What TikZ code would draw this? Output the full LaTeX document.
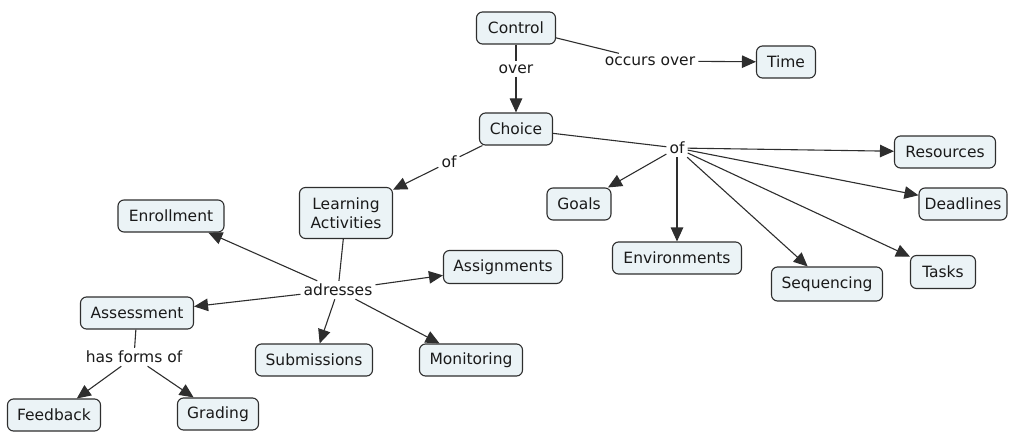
\documentclass[tikz,border=0pt]{standalone}
\usepackage{fontspec}
\setmainfont{DejaVu Sans}
\usetikzlibrary{arrows.meta}
\definecolor{boxfill}{HTML}{EBF3F6}
\definecolor{boxline}{HTML}{2E2E2E}
\definecolor{txt}{HTML}{1A1A1A}
\tikzset{
  concept/.style={draw=boxline, fill=boxfill, rounded corners=6pt, line width=1.1pt,
    minimum height=32pt, inner sep=2pt, text=txt, font=\fontsize{15.5}{19.5}\selectfont, align=center},
  linklabel/.style={inner sep=3pt, text=txt, font=\fontsize{15.5}{19.5}\selectfont},
  plain/.style={draw=boxline, line width=1.1pt},
  arr/.style={draw=boxline, line width=1.1pt, -{Triangle[length=14pt,width=12.5pt]}},
}
\begin{document}
\begin{tikzpicture}[x=1pt,y=-1pt]
\useasboundingbox (0,0) rectangle (1011,433);
\node[concept, minimum width=79pt] (ctrl) at (516,28) {Control};
\node[concept, minimum width=59pt] (time) at (786,62) {Time};
\node[linklabel] (over) at (516,69) {over};
\node[linklabel] (occ) at (650,61) {occurs over};
\node[concept, minimum width=73pt] (choice) at (516,129) {Choice};
\node[linklabel] (ofA) at (449,162) {of};
\node[concept, minimum width=93pt, minimum height=51pt] (la) at (346,213) {Learning\\Activities};
\node[linklabel] (ofB) at (677,148) {of};
\node[concept, minimum width=101pt] (res) at (945,152) {Resources};
\node[concept, minimum width=88pt] (dead) at (963,204) {Deadlines};
\node[concept, minimum width=64pt] (goals) at (579,204) {Goals};
\node[concept, minimum width=129pt] (env) at (677,258) {Environments};
\node[concept, minimum width=111pt, minimum height=34pt] (seq) at (827,284) {Sequencing};
\node[concept, minimum width=65pt, minimum height=33pt] (tasks) at (943,272) {Tasks};
\node[concept, minimum width=119pt, minimum height=33pt] (assign) at (503,267) {Assignments};
\node[concept, minimum width=106pt] (enr) at (171,216) {Enrollment};
\node[linklabel] (adr) at (338,290) {adresses};
\node[concept, minimum width=113pt] (assess) at (137,313) {Assessment};
\node[linklabel] (hfo) at (134,357) {has forms of};
\node[concept, minimum width=117pt] (subm) at (314,360) {Submissions};
\node[concept, minimum width=103pt] (mon) at (471,360) {Monitoring};
\node[concept, minimum width=93pt] (fb) at (54,415) {Feedback};
\node[concept, minimum width=81pt] (grad) at (218,414) {Grading};

\draw[plain] (ctrl) -- (over);
\draw[arr] (over) -- (choice);
\draw[plain] (ctrl) -- (occ);
\draw[arr] (occ) -- (time);
\draw[plain] (choice) -- (ofA);
\draw[arr] (ofA) -- (la);
\draw[plain] (choice) -- (ofB);
\draw[arr] (ofB) -- (res);
\draw[arr] (ofB) -- (dead);
\draw[arr] (ofB) -- (goals);
\draw[arr] (ofB) -- (env);
\draw[arr] (ofB) -- (seq);
\draw[arr] (ofB) -- (tasks);
\draw[plain] (la) -- (adr);
\draw[arr] (adr) -- (enr);
\draw[arr] (adr) -- (assess);
\draw[arr] (adr) -- (subm);
\draw[arr] (adr) -- (mon);
\draw[arr] (adr) -- (assign);
\draw[plain] (assess) -- (hfo);
\draw[arr] (hfo) -- (fb);
\draw[arr] (hfo) -- (grad);
\end{tikzpicture}
\end{document}
